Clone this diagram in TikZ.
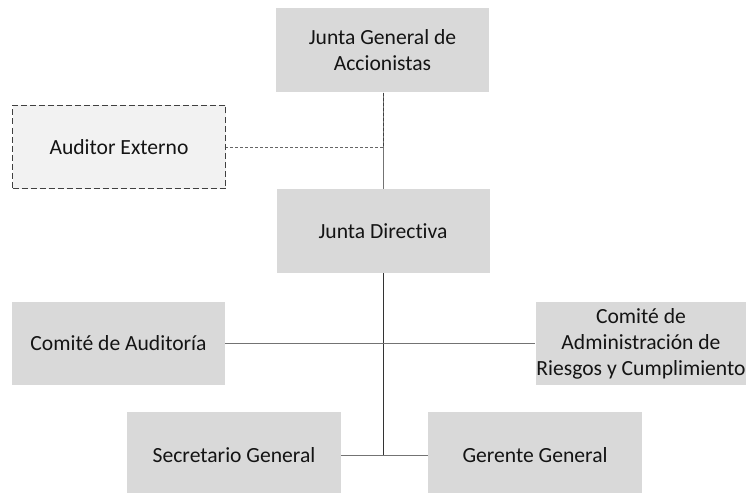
\documentclass[tikz,border=0pt]{standalone}
\usepackage{fontspec}
\setmainfont{Carlito}[Ligatures=NoCommon]
\begin{document}
\begin{tikzpicture}[x=1pt,y=-1pt,
  box/.style={rectangle, fill=boxgray, draw=none, inner sep=0pt, minimum width=213pt, minimum height=84pt, align=center, font=\fontsize{21.6}{26}\selectfont, text=black!92},
  extbox/.style={box, fill=extgray, draw=black!75, dash pattern=on 6pt off 3pt, line width=1.3pt},
  mainline/.style={draw=black!80, line width=1pt},
  sideline/.style={draw=black!55, line width=0.9pt},
  dashline/.style={draw=black!60, dash pattern=on 3pt off 2pt, line width=0.9pt}
]
\definecolor{boxgray}{HTML}{D9D9D9}
\definecolor{extgray}{HTML}{F2F2F2}
\useasboundingbox (0,0) rectangle (746,492);
\node[box] (jg) at (382.5,50.5) {Junta General de\\Accionistas};
\node[extbox, minimum width=213pt, minimum height=83pt] (ae) at (119,147) {Auditor Externo};
\node[box] (jd) at (383,231) {Junta Directiva};
\node[box, minimum height=83pt] (ca) at (118.5,343.5) {Comité de Auditoría};
\node[box, minimum width=211pt, minimum height=83pt] (cr) at (641,343.5) {Comité de\\Administración de\\Riesgos y Cumplimiento};
\node[box, minimum width=214pt, minimum height=86pt] (sg) at (234,455) {Secretario General};
\node[box, minimum width=214pt, minimum height=86pt] (gg) at (535,455) {Gerente General};
\coordinate (ja) at (383,147);
\coordinate (jb) at (383,343);
\coordinate (jc) at (383,455);
\draw[sideline] (jg.south -| ja) -- (jd.north -| ja);
\draw[dashline, draw=black!75] (jg.south -| ja) -- (ja);
\draw[dashline] (ja) -- (ae.east);
\draw[mainline] (jd.south -| jc) -- (jc);
\draw[sideline] (ca.east) -- (cr.west);
\draw[sideline] (sg.east) -- (gg.west);
\end{tikzpicture}
\end{document}
